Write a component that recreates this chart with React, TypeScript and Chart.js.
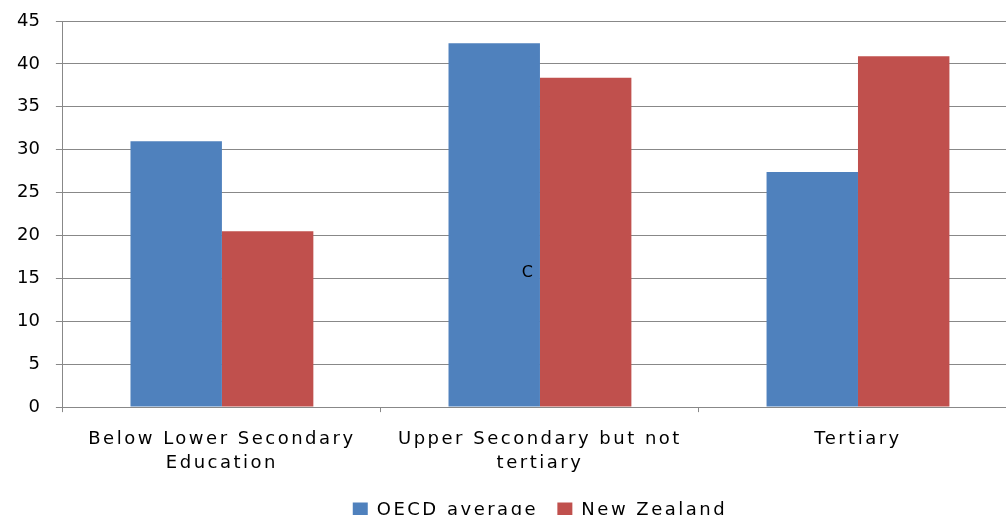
import React, { useEffect, useRef } from "react";
import { Chart, registerables } from "chart.js";

Chart.register(...registerables);

const categories: (string | string[])[] = [
  ["Below Lower Secondary", "Education"],
  ["Upper Secondary but not", "tertiary"],
  "Tertiary",
];
const oecdAverage = [31.0, 42.4, 27.4];
const newZealand = [20.5, 38.4, 40.9];
const seriesNames = ["OECD average", "New Zealand"];
const yTicksMax = 45;
const yStep = 5;
const strayLabel = "C";

const SPACING = "2.5px";

const spacingPlugin = {
  id: "spacing",
  beforeLayout(chart: any) {
    chart.ctx.letterSpacing = SPACING;
  },
  afterLayout(chart: any) {
    const y = chart.scales.y;
    if (y && !y._noSpacingPatched) {
      const orig = y.drawLabels;
      y.drawLabels = function (area: any) {
        const ctx = chart.ctx;
        const prev = ctx.letterSpacing;
        ctx.letterSpacing = "0px";
        orig.call(this, area);
        ctx.letterSpacing = prev;
      };
      y._noSpacingPatched = true;
    }
  },
  beforeDraw(chart: any) {
    chart.ctx.letterSpacing = SPACING;
  },
  afterDraw(chart: any) {
    const { ctx, scales } = chart;
    const step = scales.x.getPixelForValue(1) - scales.x.getPixelForValue(0);
    const x = scales.x.getPixelForValue(1) - 0.04 * step;
    const y = scales.y.getPixelForValue(15.7);
    ctx.save();
    ctx.letterSpacing = "0px";
    ctx.fillStyle = "#000";
    ctx.font = "16px 'DejaVu Sans'";
    ctx.textAlign = "center";
    ctx.textBaseline = "middle";
    ctx.fillText(strayLabel, x, y);
    ctx.restore();
  },
};

export default function App() {
  const ref = useRef<HTMLCanvasElement>(null);
  useEffect(() => {
    if (!ref.current) return;
    const font = { family: "'DejaVu Sans'", size: 18, lineHeight: 1.33 };
    const yFont = { family: "'DejaVu Sans'", size: 18 };
    const chart = new Chart(ref.current, {
      type: "bar",
      data: {
        labels: categories,
        datasets: [
          { label: seriesNames[0], data: oecdAverage, backgroundColor: "#4F81BD" },
          { label: seriesNames[1], data: newZealand, backgroundColor: "#C0504D" },
        ],
      },
      options: {
        animation: false,
        responsive: false,
        maintainAspectRatio: false,
        devicePixelRatio: 1,
        layout: { padding: { left: -4, right: 61, top: 21, bottom: 0 } },
        datasets: { bar: { categoryPercentage: 0.575, barPercentage: 1 } },
        plugins: {
          legend: {
            position: "bottom",
            fullSize: false,
            labels: {
              font,
              color: "#000",
              boxWidth: 15,
              boxHeight: 15,
              padding: 11,
              generateLabels(chart: any) {
                const items = Chart.defaults.plugins.legend.labels.generateLabels(chart);
                if (items.length > 1) items[0].text = items[0].text + " ";
                return items;
              },
            },
          },
          tooltip: { enabled: false },
        },
        scales: {
          x: {
            offset: true,
            grid: { offset: true, drawOnChartArea: false, drawTicks: true, tickLength: 5, color: "#888" },
            border: { color: "#888" },
            ticks: { font, color: "#000", maxRotation: 0, padding: 15 },
          },
          y: {
            min: 0,
            max: yTicksMax,
            ticks: { stepSize: yStep, font: yFont, color: "#000", padding: 16 },
            grid: { color: "#888", tickLength: 7 },
            border: { color: "#888" },
            afterFit(scale: any) {
              scale.paddingTop = 0;
            },
          },
        },
      },
      plugins: [spacingPlugin],
    });
    return () => chart.destroy();
  }, []);
  return (
    <div style={{ position: "fixed", left: 0, top: 0, width: 1006, height: 515, overflow: "hidden", background: "#fff" }}>
      <canvas ref={ref} width={1078} height={529} style={{ display: "block" }} />
    </div>
  );
}
